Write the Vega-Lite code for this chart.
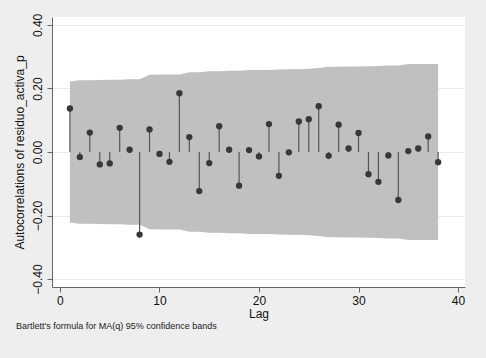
{
  "$schema": "https://vega.github.io/schema/vega-lite/v6.json",
  "width": 413,
  "height": 270,
  "autosize": {"type": "none"},
  "padding": {"left": 52, "top": 17, "right": 21, "bottom": 71},
  "background": "#EEEEEE",
  "config": {
    "view": {"fill": "white", "stroke": null},
    "font": "Liberation Sans"
  },
  "title": {
    "text": "Bartlett's formula for MA(q) 95% confidence bands",
    "orient": "bottom",
    "anchor": "start",
    "fontSize": 9,
    "fontWeight": "normal",
    "color": "#222222",
    "offset": 3,
    "dx": 3
  },
  "data": {
    "values": [
      {"lag": 1, "ac": 0.137, "upper": 0.2219, "lower": -0.2219},
      {"lag": 2, "ac": -0.016, "upper": 0.2261, "lower": -0.2261},
      {"lag": 3, "ac": 0.061, "upper": 0.2261, "lower": -0.2261},
      {"lag": 4, "ac": -0.039, "upper": 0.2269, "lower": -0.2269},
      {"lag": 5, "ac": -0.036, "upper": 0.2272, "lower": -0.2272},
      {"lag": 6, "ac": 0.076, "upper": 0.2275, "lower": -0.2275},
      {"lag": 7, "ac": 0.007, "upper": 0.2288, "lower": -0.2288},
      {"lag": 8, "ac": -0.26, "upper": 0.2288, "lower": -0.2288},
      {"lag": 9, "ac": 0.071, "upper": 0.2429, "lower": -0.2429},
      {"lag": 10, "ac": -0.006, "upper": 0.2439, "lower": -0.2439},
      {"lag": 11, "ac": -0.031, "upper": 0.2439, "lower": -0.2439},
      {"lag": 12, "ac": 0.185, "upper": 0.2441, "lower": -0.2441},
      {"lag": 13, "ac": 0.047, "upper": 0.2509, "lower": -0.2509},
      {"lag": 14, "ac": -0.123, "upper": 0.2514, "lower": -0.2514},
      {"lag": 15, "ac": -0.035, "upper": 0.2543, "lower": -0.2543},
      {"lag": 16, "ac": 0.081, "upper": 0.2546, "lower": -0.2546},
      {"lag": 17, "ac": 0.007, "upper": 0.2558, "lower": -0.2558},
      {"lag": 18, "ac": -0.106, "upper": 0.2558, "lower": -0.2558},
      {"lag": 19, "ac": 0.006, "upper": 0.258, "lower": -0.258},
      {"lag": 20, "ac": -0.014, "upper": 0.258, "lower": -0.258},
      {"lag": 21, "ac": 0.088, "upper": 0.2581, "lower": -0.2581},
      {"lag": 22, "ac": -0.075, "upper": 0.2595, "lower": -0.2595},
      {"lag": 23, "ac": -0.001, "upper": 0.2606, "lower": -0.2606},
      {"lag": 24, "ac": 0.096, "upper": 0.2606, "lower": -0.2606},
      {"lag": 25, "ac": 0.103, "upper": 0.2623, "lower": -0.2623},
      {"lag": 26, "ac": 0.144, "upper": 0.2643, "lower": -0.2643},
      {"lag": 27, "ac": -0.012, "upper": 0.2681, "lower": -0.2681},
      {"lag": 28, "ac": 0.086, "upper": 0.2682, "lower": -0.2682},
      {"lag": 29, "ac": 0.011, "upper": 0.2695, "lower": -0.2695},
      {"lag": 30, "ac": 0.06, "upper": 0.2695, "lower": -0.2695},
      {"lag": 31, "ac": -0.07, "upper": 0.2702, "lower": -0.2702},
      {"lag": 32, "ac": -0.094, "upper": 0.2711, "lower": -0.2711},
      {"lag": 33, "ac": -0.011, "upper": 0.2727, "lower": -0.2727},
      {"lag": 34, "ac": -0.151, "upper": 0.2727, "lower": -0.2727},
      {"lag": 35, "ac": 0.003, "upper": 0.2768, "lower": -0.2768},
      {"lag": 36, "ac": 0.011, "upper": 0.2768, "lower": -0.2768},
      {"lag": 37, "ac": 0.049, "upper": 0.2768, "lower": -0.2768},
      {"lag": 38, "ac": -0.032, "upper": 0.2772, "lower": -0.2772}
    ]
  },
  "encoding": {
    "x": {
      "field": "lag",
      "type": "quantitative",
      "scale": {"domain": [-0.8, 40.7], "nice": false, "zero": false},
      "axis": {
        "values": [0, 10, 20, 30, 40],
        "title": "Lag",
        "titleFontSize": 12,
        "titleFontWeight": "normal",
        "titleColor": "#111111",
        "titlePadding": 2,
        "labelFontSize": 12,
        "labelColor": "#111111",
        "labelPadding": 3,
        "labelFlush": false,
        "tickSize": 5,
        "tickColor": "#666666",
        "domainColor": "#666666",
        "grid": false
      }
    }
  },
  "layer": [
    {
      "mark": {"type": "area", "color": "#C0C0C0", "opacity": 1},
      "encoding": {
        "y": {
          "field": "lower",
          "type": "quantitative",
          "scale": {"domain": [-0.425, 0.425], "nice": false, "zero": false},
          "axis": {
            "values": [-0.4, -0.2, 0, 0.2, 0.4],
            "format": ".2f",
            "title": "Autocorrelations of residuo_activa_p",
            "titleFontSize": 12,
            "titleFontWeight": "normal",
            "titleColor": "#111111",
            "titlePadding": 5,
            "labelFontSize": 12,
            "labelColor": "#111111",
            "labelAngle": -90,
            "labelAlign": "center",
            "labelBaseline": "bottom",
            "labelPadding": 3,
            "labelFlush": false,
            "tickSize": 5,
            "tickColor": "#666666",
            "domainColor": "#666666",
            "grid": true,
            "gridColor": "#E6ECEC",
            "gridWidth": 1
          }
        },
        "y2": {"field": "upper"}
      }
    },
    {
      "mark": {"type": "rule", "color": "#555555", "strokeWidth": 1.2},
      "encoding": {
        "y": {"field": "ac", "type": "quantitative"},
        "y2": {"datum": 0}
      }
    },
    {
      "mark": {"type": "circle", "color": "#383838", "opacity": 1, "size": 40},
      "encoding": {
        "y": {"field": "ac", "type": "quantitative"}
      }
    }
  ]
}
